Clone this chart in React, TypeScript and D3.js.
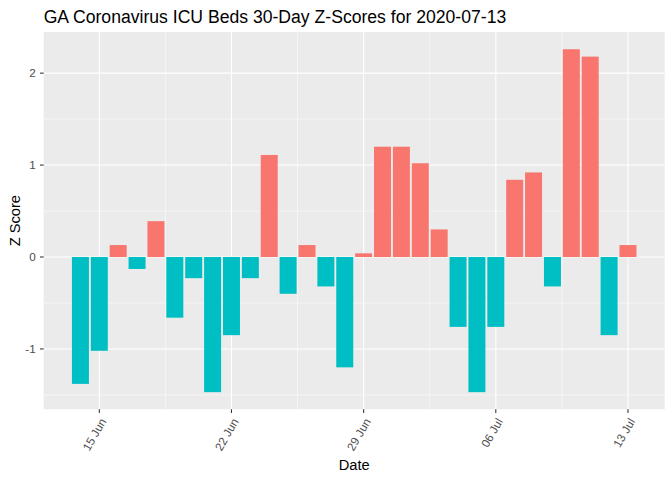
import React, { useRef, useEffect } from 'react';
import * as d3 from 'd3';

// Daily 30-day z-scores, 14 Jun to 13 Jul 2020
const dates = [
  '2020-06-14', '2020-06-15', '2020-06-16', '2020-06-17', '2020-06-18',
  '2020-06-19', '2020-06-20', '2020-06-21', '2020-06-22', '2020-06-23',
  '2020-06-24', '2020-06-25', '2020-06-26', '2020-06-27', '2020-06-28',
  '2020-06-29', '2020-06-30', '2020-07-01', '2020-07-02', '2020-07-03',
  '2020-07-04', '2020-07-05', '2020-07-06', '2020-07-07', '2020-07-08',
  '2020-07-09', '2020-07-10', '2020-07-11', '2020-07-12', '2020-07-13'
];
const zScores = [
  -1.38, -1.02, 0.13, -0.13, 0.39,
  -0.66, -0.23, -1.47, -0.85, -0.23,
  1.11, -0.40, 0.13, -0.32, -1.20,
  0.04, 1.20, 1.20, 1.02, 0.30,
  -0.76, -1.47, -0.76, 0.84, 0.92,
  -0.32, 2.26, 2.18, -0.85, 0.13
];
const xTicks = ['2020-06-15', '2020-06-22', '2020-06-29', '2020-07-06', '2020-07-13'];
const yTicks = [-1, 0, 1, 2];

const posColor = '#F8766D';
const negColor = '#00BFC4';
const font = '"Liberation Sans", Arial, sans-serif';

const App: React.FC = () => {
  const svgRef = useRef<SVGSVGElement>(null);
  const width = 672;
  const height = 480;

  useEffect(() => {
    if (!svgRef.current) return;
    const svg = d3.select(svgRef.current);
    svg.selectAll('*').remove();

    const left = 43.7, right = 664.7, top = 32.1, bottom = 409.3;
    const day = 86400000;
    const parse = (s: string) => new Date(s + 'T00:00:00Z');
    const data = dates.map((d, i) => ({ date: parse(d), z: zScores[i] }));

    // ggplot-like 5% expansion around bar extents (bar width 0.9 day)
    const first = data[0].date.getTime() - 0.45 * day;
    const last = data[data.length - 1].date.getTime() + 0.45 * day;
    const padX = (last - first) * 0.05;
    const x = d3.scaleUtc()
      .domain([new Date(first - padX), new Date(last + padX)])
      .range([left, right]);

    const zMin = d3.min(zScores)!, zMax = d3.max(zScores)!;
    const padY = (zMax - zMin) * 0.05;
    const y = d3.scaleLinear().domain([zMin - padY, zMax + padY]).range([bottom, top]);

    // Panel
    svg.append('rect')
      .attr('x', left).attr('y', top)
      .attr('width', right - left).attr('height', bottom - top)
      .attr('fill', '#EBEBEB');

    // Minor grid
    const minorY = [-1.5, -0.5, 0.5, 1.5];
    minorY.forEach(v => {
      svg.append('line')
        .attr('x1', left).attr('x2', right)
        .attr('y1', y(v)).attr('y2', y(v))
        .attr('stroke', '#fff').attr('stroke-width', 0.53);
    });
    const tickDates = xTicks.map(parse);
    for (let i = 0; i < tickDates.length - 1; i++) {
      const mid = new Date(tickDates[i].getTime() + 3.5 * day);
      svg.append('line')
        .attr('x1', x(mid)).attr('x2', x(mid))
        .attr('y1', top).attr('y2', bottom)
        .attr('stroke', '#fff').attr('stroke-width', 0.53);
    }

    // Major grid
    yTicks.forEach(v => {
      svg.append('line')
        .attr('x1', left).attr('x2', right)
        .attr('y1', y(v)).attr('y2', y(v))
        .attr('stroke', '#fff').attr('stroke-width', 1.07);
    });
    tickDates.forEach(d => {
      svg.append('line')
        .attr('x1', x(d)).attr('x2', x(d))
        .attr('y1', top).attr('y2', bottom)
        .attr('stroke', '#fff').attr('stroke-width', 1.07);
    });

    // Bars
    svg.append('g')
      .selectAll('rect')
      .data(data)
      .join('rect')
      .attr('x', d => x(new Date(d.date.getTime() - 0.45 * day)))
      .attr('width', d => x(new Date(d.date.getTime() + 0.45 * day)) - x(new Date(d.date.getTime() - 0.45 * day)))
      .attr('y', d => y(Math.max(0, d.z)))
      .attr('height', d => Math.abs(y(d.z) - y(0)))
      .attr('fill', d => (d.z > 0 ? posColor : negColor));

    // Y axis ticks and labels
    yTicks.forEach(v => {
      svg.append('line')
        .attr('x1', left - 3.67).attr('x2', left)
        .attr('y1', y(v)).attr('y2', y(v))
        .attr('stroke', '#333333').attr('stroke-width', 1.07);
      svg.append('text')
        .attr('x', left - 8)
        .attr('y', y(v))
        .attr('dy', '0.35em')
        .attr('text-anchor', 'end')
        .attr('font-family', font)
        .attr('font-size', '11.7px')
        .attr('fill', '#4D4D4D')
        .text(String(v));
    });

    // X axis ticks and rotated labels
    const fmt = d3.utcFormat('%d %b');
    tickDates.forEach(d => {
      const tx = x(d);
      svg.append('line')
        .attr('x1', tx).attr('x2', tx)
        .attr('y1', bottom).attr('y2', bottom + 3.67)
        .attr('stroke', '#333333').attr('stroke-width', 1.07);
      const ax = tx + 7.5, ay = bottom + 12;
      svg.append('text')
        .attr('x', ax)
        .attr('y', ay)
        .attr('text-anchor', 'end')
        .attr('transform', `rotate(-60, ${ax}, ${ay})`)
        .attr('font-family', font)
        .attr('font-size', '11.7px')
        .attr('fill', '#4D4D4D')
        .text(fmt(d));
    });

    // Axis titles
    svg.append('text')
      .attr('x', (left + right) / 2)
      .attr('y', 470)
      .attr('text-anchor', 'middle')
      .attr('font-family', font)
      .attr('font-size', '14.67px')
      .attr('fill', '#000')
      .text('Date');

    svg.append('text')
      .attr('transform', `translate(19.5, ${(top + bottom) / 2}) rotate(-90)`)
      .attr('text-anchor', 'middle')
      .attr('font-family', font)
      .attr('font-size', '14.67px')
      .attr('fill', '#000')
      .text('Z Score');

    // Title
    svg.append('text')
      .attr('x', left)
      .attr('y', 23)
      .attr('font-family', font)
      .attr('font-size', '17.6px')
      .attr('fill', '#000')
      .text('GA Coronavirus ICU Beds 30-Day Z-Scores for 2020-07-13');
  }, []);

  return (
    <div style={{ position: 'absolute', left: 0, top: 0 }}>
      <svg ref={svgRef} width={width} height={height} style={{ display: 'block', background: '#fff' }} />
    </div>
  );
};

export default App;
